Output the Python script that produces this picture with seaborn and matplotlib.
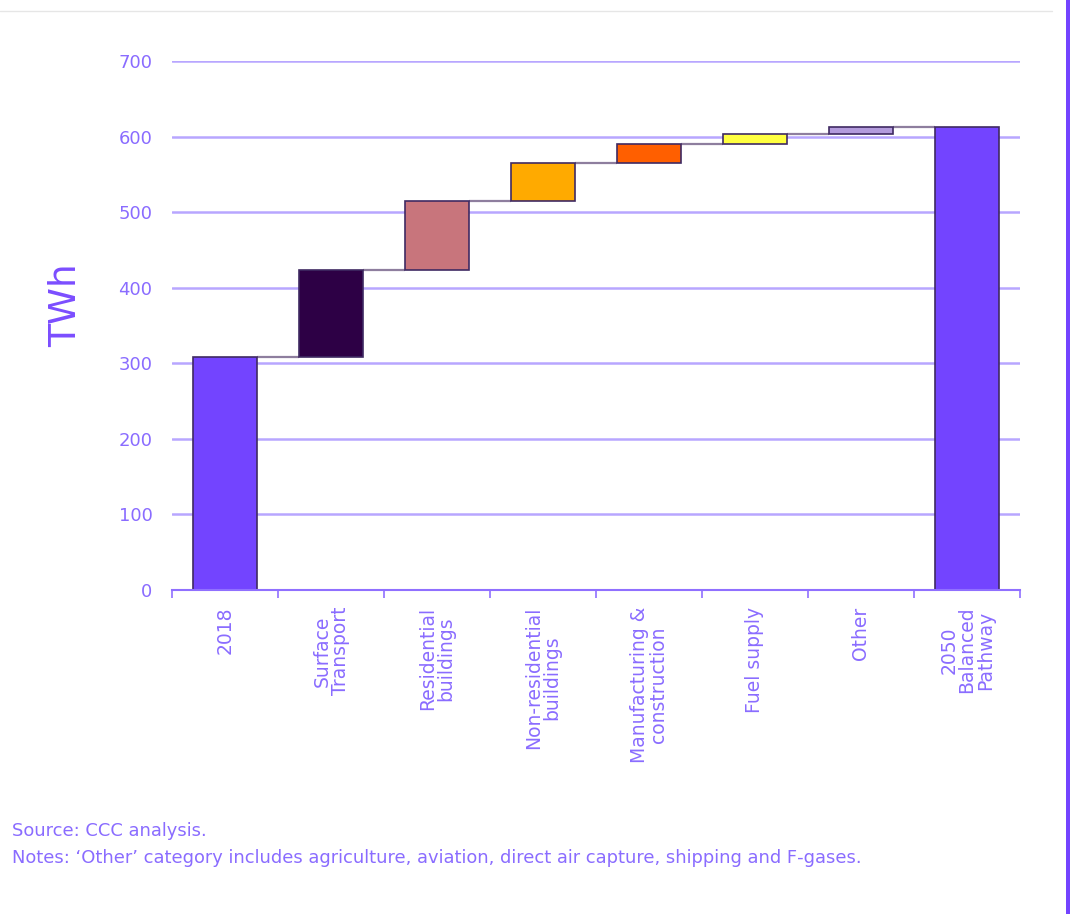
import numpy as np
import pandas as pd
import matplotlib
matplotlib.use("Agg")
import matplotlib.pyplot as plt
from matplotlib.patches import Rectangle
from matplotlib.lines import Line2D
import seaborn as sns

# Waterfall: 2018 demand, sector changes, 2050 Balanced Pathway (TWh)
categories = ["2018", "Surface\nTransport", "Residential\nbuildings",
              "Non-residential\nbuildings", "Manufacturing &\nconstruction",
              "Fuel supply", "Other", "2050\nBalanced\nPathway"]
start_value = 308
changes = [116, 91, 50, 25, 14, 8]
bar_colors = ["#7344ff", "#2d0045", "#c8757c", "#ffaa00", "#ff5f00",
              "#ffff40", "#b39bdc", "#7344ff"]
y_ticks = [0, 100, 200, 300, 400, 500, 600, 700]

levels = np.cumsum([start_value] + changes)
end_value = levels[-1]
tops = np.concatenate([[start_value], levels[1:], [end_value]])
bases = np.concatenate([[0], levels[:-1], [0]])

df = pd.DataFrame({"category": categories, "top": tops})

sns.set_theme(style="white")
plt.rcParams["font.family"] = ["DejaVu Sans"]

label_color = "#8a6cff"
grid_color = "#b8a6ff"
edge_color = "#3f2a62"
link_color = "#8e7e9e"

fig = plt.figure(figsize=(10.72, 9.14), dpi=100)
ax = fig.add_axes([0.1604, 0.3545, 0.7911, 0.5788])

bar_width = 0.6
sns.barplot(data=df, x="category", y="top", color=bar_colors[0], width=bar_width,
            edgecolor=edge_color, linewidth=1.2, ax=ax, zorder=3)

for patch, base, top, col in zip(ax.patches, bases, tops, bar_colors):
    patch.set_y(base)
    patch.set_height(top - base)
    patch.set_facecolor(col)

# connector lines between consecutive bars
for i in range(len(categories) - 1):
    ax.plot([i + bar_width / 2, i + 1 - bar_width / 2], [tops[i], tops[i]],
            color=link_color, lw=1.6, zorder=2, solid_capstyle="butt")

ax.set_xlim(-0.5, len(categories) - 0.5)
ax.set_ylim(0, 700)
ax.set_yticks(y_ticks)
ax.set_yticklabels([str(v) for v in y_ticks])
for v in y_ticks:
    ax.axhline(v, color=grid_color, lw=1.8, zorder=1)

for side in ["left", "right", "top"]:
    ax.spines[side].set_visible(False)
ax.spines["bottom"].set_color("#9070ff")
ax.spines["bottom"].set_linewidth(1.5)
ax.spines["bottom"].set_zorder(4)

ax.tick_params(axis="y", length=0, pad=14, labelsize=13, labelcolor=label_color)
ax.set_xticks(range(len(categories)))
ax.set_xticklabels(categories, rotation=90, fontsize=13.5, color=label_color,
                   va="top", ha="center", multialignment="center", linespacing=0.95)
ax.tick_params(axis="x", which="major", bottom=True, length=0, pad=12)
ax.set_xticks(np.arange(-0.5, len(categories)), minor=True)
ax.tick_params(axis="x", which="minor", bottom=True, length=6, width=1.2,
               color="#9070ff", direction="out")

ax.set_xlabel("")
ax.set_ylabel("TWh", fontsize=27, color="#7b4dff")
ax.yaxis.set_label_coords(-0.103, 0.539)

fig.text(12 / 1072, 1 - 831 / 914, "Source: CCC analysis.", fontsize=12.9,
         color=label_color, va="center", ha="left")
fig.text(12 / 1072, 1 - 858 / 914,
         "Notes: \u2018Other\u2019 category includes agriculture, aviation, direct air capture, shipping and F-gases.",
         fontsize=12.9, color=label_color, va="center", ha="left")

# thin page rule at the top and accent stripe at the right edge
fig.add_artist(Line2D([0, 1052 / 1072], [1 - 11 / 914, 1 - 11 / 914],
                      transform=fig.transFigure, color="#e6e6e6", lw=1))
fig.add_artist(Rectangle((1066 / 1072, 0), 4 / 1072, 1, transform=fig.transFigure,
                         facecolor="#7344ff", edgecolor="none"))

fig.savefig("out.png", dpi=100, facecolor="white")
